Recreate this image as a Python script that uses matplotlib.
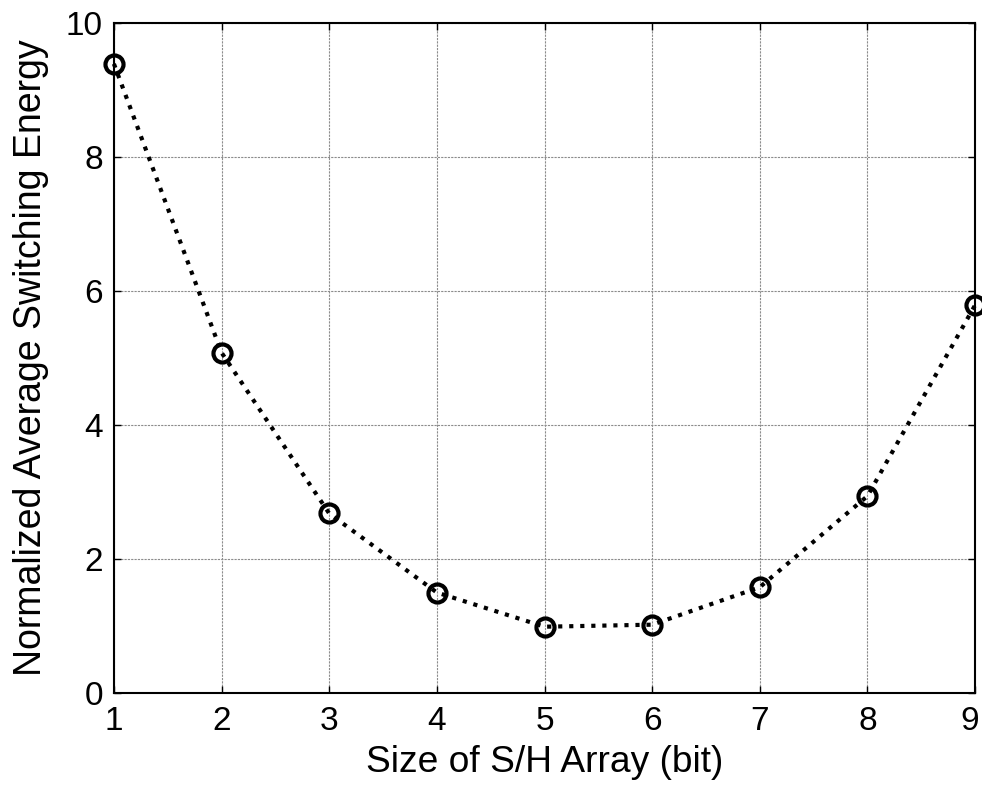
import matplotlib.pyplot as plt
import matplotlib.transforms as mtransforms

plt.rcParams['font.family'] = ['Liberation Sans', 'DejaVu Sans']

# data
sh_bits = [1, 2, 3, 4, 5, 6, 7, 8, 9]
norm_energy = [9.39, 5.08, 2.68, 1.50, 0.99, 1.02, 1.58, 2.94, 5.79]

fig = plt.figure(figsize=(9.82, 7.87), dpi=100)
ax = fig.add_axes([0.116, 0.1194, 0.877, 0.8514])

ax.plot(sh_bits, norm_energy, color='black', linestyle=':', linewidth=3,
        marker='o', markersize=13, markerfacecolor='none',
        markeredgewidth=3, clip_on=False, zorder=3)

ax.set_xlim(1, 9)
ax.set_ylim(0, 10)
ax.set_xticks(range(1, 10))
ax.set_yticks([0, 2, 4, 6, 8, 10])
ax.tick_params(direction='in', length=5, width=1, top=True, right=True,
               labelsize=24)
ax.tick_params(axis='x', pad=9)
ax.tick_params(axis='y', pad=8)
ax.grid(True, color='#8c8c8c', linestyle=(0, (2, 1)), linewidth=0.8)
for s in ax.spines.values():
    s.set_linewidth(1.5)

# last x tick label sits a little inside the figure edge
last = ax.get_xticklabels()[-1]
last.set_transform(last.get_transform() +
                   mtransforms.ScaledTranslation(-5 / 100, 0, fig.dpi_scale_trans))

ax.set_xlabel('Size of S/H Array (bit)', fontsize=26.7, labelpad=6)
ax.set_ylabel('Normalized Average Switching Energy', fontsize=27, labelpad=12)

plt.savefig('out.png', dpi=100)
